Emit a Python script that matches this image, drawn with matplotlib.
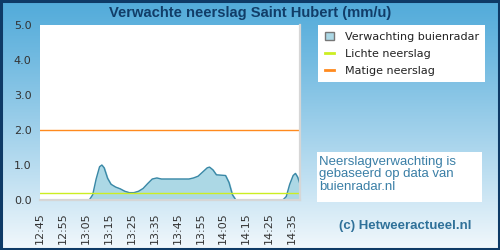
import matplotlib
matplotlib.use("Agg")
import matplotlib.pyplot as plt
import numpy as np
from matplotlib.patches import Rectangle, Patch
from matplotlib.lines import Line2D

# minutes after 12:45 and forecast rain (mm/u)
minutes = [0, 10, 20, 21.5, 23, 24.5, 26, 27, 28, 29.5, 31, 33, 35, 37, 39, 41,
           43, 45, 47, 49, 51, 53, 57, 61, 65, 67, 69, 71, 73, 74, 75.5, 77,
           79, 81, 82.5, 84, 85.5, 95, 106, 107.5, 109, 110.5, 111.5, 112.5, 113.5]
rain = [0, 0, 0, 0, 0.15, 0.6, 0.95, 1.0, 0.92, 0.62, 0.45, 0.37, 0.32, 0.25, 0.21, 0.21,
        0.25, 0.33, 0.47, 0.6, 0.63, 0.6, 0.6, 0.6, 0.6, 0.63, 0.68, 0.8, 0.92, 0.94, 0.86, 0.72,
        0.71, 0.7, 0.5, 0.15, 0, 0, 0, 0.1, 0.45, 0.7, 0.76, 0.65, 0.45]
tick_labels = ["12:45", "12:55", "13:05", "13:15", "13:25", "13:35",
               "13:45", "13:55", "14:05", "14:15", "14:25", "14:35"]
light_rain = 0.2
moderate_rain = 2.0

fig = plt.figure(figsize=(5, 2.5), dpi=100)

# gradient background
bg = fig.add_axes([0, 0, 1, 1], zorder=-10)
grad = np.linspace(0, 1, 256).reshape(-1, 1)
top = np.array([0x52, 0xab, 0xda]) / 255
bot = np.array([0xf2, 0xf8, 0xfc]) / 255
img = top + (bot - top) * grad[:, :, None] ** 1.1
bg.imshow(img, aspect="auto", extent=[0, 1, 0, 1])
bg.set_axis_off()
fig.patches.append(Rectangle((0.002, 0.004), 0.996, 0.992, transform=fig.transFigure,
                             fill=False, edgecolor="#0e3a66", linewidth=2.2))

fig.text(0.5, 0.95, "Verwachte neerslag Saint Hubert (mm/u)", ha="center", va="center",
         fontsize=10.6, fontweight="bold", color="#113d68", family="Liberation Sans")

ax = fig.add_axes([0.08, 0.2, 0.52, 0.7])
ax.set_facecolor("white")
ax.fill_between(minutes, rain, color="#acd8e5", zorder=2)
ax.plot(minutes, rain, color="#3a88a6", linewidth=1, zorder=3)
ax.axhline(light_rain, color="#ccee22", linewidth=1, zorder=4)
ax.axhline(moderate_rain, color="#ff8a1e", linewidth=1, zorder=4)

ax.set_xlim(0, 113.5)
ax.set_ylim(0, 5)
ax.set_yticks(np.arange(0, 5.1, 1))
ax.set_yticklabels([f"{v:.1f}" for v in np.arange(0, 5.1, 1)])
ax.set_xticks(np.arange(0, 111, 10))
ax.set_xticklabels(tick_labels, rotation=90)
ax.tick_params(length=0, labelsize=8, labelcolor="#333333")
ax.tick_params(axis="x", pad=9)
ax.tick_params(axis="y", pad=6)
for s in ["left", "top"]:
    ax.spines[s].set_visible(False)
for s in ["right", "bottom"]:
    ax.spines[s].set_color("#d6d6d6")
    ax.spines[s].set_linewidth(1.6)
    ax.spines[s].set_zorder(6)

handles = [Patch(facecolor="#acd8e5", edgecolor="#777777", linewidth=1),
           Line2D([0], [0], color="#ccee22", linewidth=2),
           Line2D([0], [0], color="#ff8a1e", linewidth=2)]
labels = ["Verwachting buienradar", "Lichte neerslag", "Matige neerslag"]
leg = fig.legend(handles, labels, loc="upper left", bbox_to_anchor=(0.636, 0.9),
                 frameon=True, fancybox=False, framealpha=1, fontsize=8,
                 handlelength=0.8, handleheight=0.8, borderpad=0.6, labelspacing=0.62,
                 borderaxespad=0, handletextpad=1.0)
leg.get_frame().set_edgecolor("white")
leg.get_frame().set_linewidth(0)
for t in leg.get_texts():
    t.set_color("#222222")

fig.patches.append(Rectangle((0.634, 0.192), 0.33, 0.2, transform=fig.transFigure,
                             facecolor="white", edgecolor="none"))
fig.text(0.638, 0.302, "Neerslagverwachting is\ngebaseerd op data van\nbuienradar.nl",
         ha="left", va="center", fontsize=9.5, color="#3a7fa6", linespacing=1.1,
         family="Liberation Sans")
fig.text(0.81, 0.095, "(c) Hetweeractueel.nl", ha="center", va="center", fontsize=9.5,
         fontweight="bold", color="#2f7199", family="Liberation Sans")

fig.savefig("out.png", dpi=100)
